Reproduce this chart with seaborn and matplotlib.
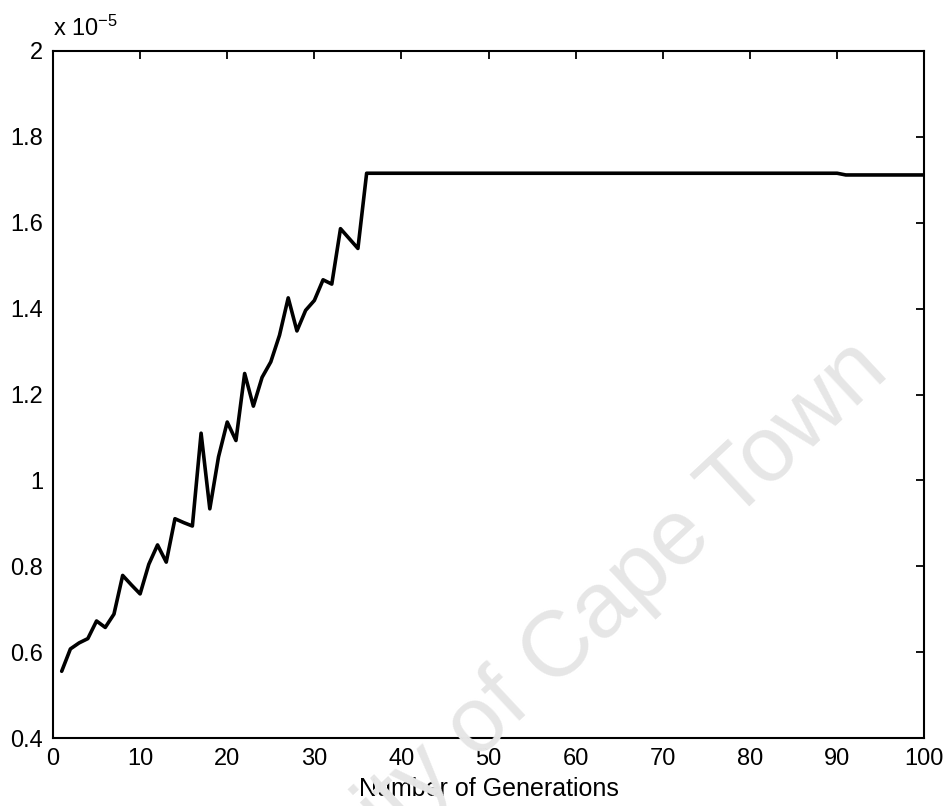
"""
Best fitness per generation (GA run), MATLAB-style line plot.
"""

import matplotlib

matplotlib.use("Agg")
import matplotlib.pyplot as plt
from matplotlib.ticker import FuncFormatter
import pandas as pd
import seaborn as sns

# values, in units of 1e-5
GENERATIONS = list(range(1, 101))
RISING = [
    0.556, 0.608, 0.622, 0.632, 0.673, 0.658, 0.689, 0.779, 0.757, 0.736,
    0.805, 0.850, 0.810, 0.911, 0.902, 0.894, 1.110, 0.934, 1.055, 1.136,
    1.093, 1.249, 1.173, 1.240, 1.276, 1.338, 1.425, 1.348, 1.396, 1.419,
    1.467, 1.457, 1.586, 1.563, 1.540, 1.715,
]
PLATEAU = [1.715] * 54 + [1.711] * 10
FITNESS = RISING + PLATEAU

X_TICKS = list(range(0, 101, 10))
Y_TICKS = [0.4, 0.6, 0.8, 1.0, 1.2, 1.4, 1.6, 1.8, 2.0]

WATERMARK = "University of Cape Town"


def main():
    sns.set_theme(style="white")
    plt.rcParams["font.family"] = ["Liberation Sans", "DejaVu Sans"]
    plt.rcParams["mathtext.default"] = "regular"

    df = pd.DataFrame({"generation": GENERATIONS, "fitness": FITNESS})

    fig = plt.figure(figsize=(9.46, 8.06), dpi=100)
    ax = fig.add_axes([0.056, 0.084, 0.921, 0.853])

    # faint watermark behind the plot (cut by the bottom edge, as in the scan)
    fig.text(0.942, 0.535, WATERMARK, rotation=43, rotation_mode="anchor",
             ha="right", va="baseline", fontsize=67, color="#e6e6e6", zorder=0)
    ax.patch.set_alpha(0)

    sns.lineplot(data=df, x="generation", y="fitness", ax=ax,
                 color="black", linewidth=2.6)

    ax.set_xlim(0, 100)
    ax.set_ylim(0.4, 2.0)
    ax.set_xticks(X_TICKS)
    ax.set_yticks(Y_TICKS)
    ax.yaxis.set_major_formatter(FuncFormatter(lambda v, _: f"{v:g}"))

    ax.tick_params(direction="in", length=6, width=1.3, colors="black",
                   labelsize=17, top=True, right=True, pad=7)
    for spine in ax.spines.values():
        spine.set_color("black")
        spine.set_linewidth(1.5)

    ax.set_xlabel("Number of Generations", fontsize=18, color="black", labelpad=5)
    ax.set_ylabel("")
    ax.text(0.0, 1.014, r"x 10$^{-5}$", transform=ax.transAxes,
            ha="left", va="bottom", fontsize=17, color="black")

    fig.savefig("out.png", dpi=100)
    plt.close(fig)


if __name__ == "__main__":
    main()
